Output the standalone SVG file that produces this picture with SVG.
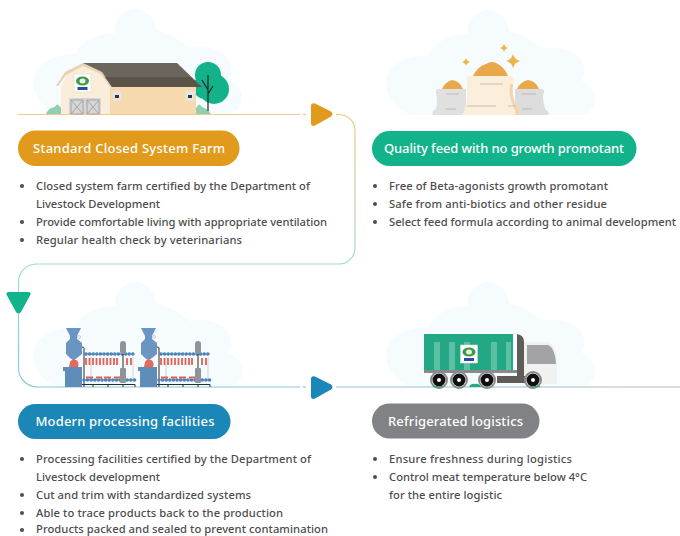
<svg xmlns="http://www.w3.org/2000/svg" xmlns:xlink="http://www.w3.org/1999/xlink" width="680" height="536" viewBox="0 0 680 536">
<style>
text{font-family:"Noto Sans","Liberation Sans",sans-serif}
.b{font-size:11.2px;font-weight:500;fill:#4d4d4d}
.p{font-size:13px;font-weight:500;fill:#fff;text-anchor:middle;dominant-baseline:central}
.d{fill:#4d4d4d}
.c{fill:none;stroke-width:1.2}
</style>
<defs>
<linearGradient id="g1" gradientUnits="userSpaceOnUse" x1="0" y1="114" x2="0" y2="264"><stop offset="0" stop-color="#f0c77e"/><stop offset="1" stop-color="#9bdccb"/></linearGradient>
<linearGradient id="g2" gradientUnits="userSpaceOnUse" x1="0" y1="264" x2="0" y2="387"><stop offset="0" stop-color="#9bdccb"/><stop offset="1" stop-color="#8cc4dc"/></linearGradient>
<linearGradient id="g3" gradientUnits="userSpaceOnUse" x1="340" y1="0" x2="680" y2="0"><stop offset="0" stop-color="#8cc4dc"/><stop offset="1" stop-color="#b4b6b8"/></linearGradient>
<path id="cloud" fill="#f6fbfe" d="M58,114C40,108 30,90 34,76C38,62 55,55 76,54C80,42 95,34 115,33C114,18 125,9 135,9C146,9 155,18 156,30C172,34 182,42 190,48C210,44 228,52 231,66C232,72 231,76 228,79C240,85 245,95 241,105C238,111 232,114 226,114Z"/>
<g id="logo"><rect x="0" y="0" width="17" height="18" fill="#fff" stroke="#d8d8d8" stroke-width=".6"/><ellipse cx="8.500" cy="7" rx="6.500" ry="4.500" fill="#3e9a4a"/><ellipse cx="8.500" cy="7" rx="3" ry="2.500" fill="#e8f3e0"/><rect x="3.500" y="13" width="10" height="3" fill="#2b4aa0"/></g>
<g id="machine">
<path d="M66,328H81L77,336V339L82,343V354L77,358L74,360H73L70,358L66,354V343L70,339V336Z" fill="#6a95c2"/>
<path d="M70,362a4.500,5 0 0 1 8,5H69Z" fill="#e8685a"/>
<path d="M63,367H82V387H65V371H63Z" fill="#5f8dba"/>
<circle cx="79" cy="337" r="1.500" fill="none" stroke="#c9b5a8" stroke-width=".7"/>
<path d="M84,387V348Q84,347 82,347" fill="none" stroke="#2b2b2b" stroke-width="1"/>
<path d="M82,384.500H135M93,384.500V387M108,384.500V387M123,384.500V387M135,384.500V387" stroke="#2b2b2b" stroke-width="1" fill="none"/>
<path d="M91,357V380M133,357V380" stroke="#d2d2d2" stroke-width="1"/>
<path d="M86,354H136M84,380H136" stroke="#4f83b5" stroke-width="3.600" stroke-linecap="round" stroke-dasharray="0.100 3.500" fill="none"/>
<path d="M86,358V365M89.500,358V365M93,358V365M96.500,358V365M100,358V365M103.500,358V365M107,358V365M110.500,358V365M114,358V365M117,358V365M127,358V365M131,358V365" stroke="#e45f55" stroke-width="1.800"/>
<path d="M86,377.500H93M96,377.500H102M104,377.500H111M114,377.500H120" stroke="#e45f55" stroke-width="2.200"/>
<rect x="120" y="341" width="6" height="13" rx="3" fill="#8e9499"/><rect x="120" y="368" width="6" height="15" rx="1" fill="#8e9499"/>
<path d="M123,354V368" stroke="#2b2b2b" stroke-width="1"/>
</g>
<path id="spark" d="M0,-6Q1,-1 6,0Q1,1 0,6Q-1,1 -6,0Q-1,-1 0,-6Z" fill="#efb14a"/>
</defs>
<rect width="680" height="536" fill="#fff"/>
<use xlink:href="#cloud" href="#cloud"/>
<use xlink:href="#cloud" href="#cloud" transform="translate(353,1)"/>
<use xlink:href="#cloud" href="#cloud" transform="translate(0,273)"/>
<use xlink:href="#cloud" href="#cloud" transform="translate(353,273)"/>

<g id="connectors">
<path class="c" d="M18,114.500H300" stroke="#f2c98a"/>
<path class="c" d="M303,114.500H306" stroke="#f2c98a"/>
<path class="c" d="M336,114.500H339A16,16 0 0 1 355,130.500V248A16,16 0 0 1 339,264H36A18,18 0 0 0 18.500,282V293" stroke="url(#g1)"/>
<path class="c" d="M18.500,314V368A19,19 0 0 0 37,387H300" stroke="url(#g2)"/>
<path class="c" d="M303,387H306" stroke="#8cc4dc"/>
<path class="c" d="M336,387H680" stroke="url(#g3)"/>
<path d="M311,106Q311,102.500 315,103.500L331,111.500Q334,114 331,116.500L315,125.500Q311,127 311,123Z" fill="#e29a1c"/>
<path d="M311,379Q311,375.500 315,376.500L331,384.500Q334,387 331,389.500L315,398.500Q311,400 311,396Z" fill="#1a87b8"/>
<path d="M9,292H28Q32,292 30,295.500L21,312Q18.500,315 16,312L7,295.500Q5,292 9,292Z" fill="#12b38a"/>
</g>

<g id="farm">
<g fill="#8fd0b3"><path d="M46,114Q48,108 55,107Q57,102 60,107Q66,109 67,114Z"/><path d="M190,114Q192,108 197,107Q199,102 202,107Q208,109 211,114Z"/></g>
<circle cx="208" cy="75" r="13" fill="#12b38a"/><circle cx="214" cy="89" r="15" fill="#12b38a"/><circle cx="205" cy="87" r="12" fill="#12b38a"/>
<path d="M208,75V111M208,90L202,80M208,94L213,86" stroke="#222" stroke-width="1.200" fill="none"/>
<rect x="110" y="87" width="86" height="27" fill="#f6d9ae"/>
<path d="M61,86L68,73L83,64L102,73L110,86V114H61Z" fill="#faeeda"/>
<path d="M56,86L65,72L83,63L102,72L112,87L110,87L101,74L83,66L66,75L58,86Z" fill="#e9d2ac"/>
<path d="M83,63H177L202,87H112L102,72Z" fill="#6b655b"/>
<path d="M105,77H190L202,87H112Z" fill="#5a544b"/>
<use xlink:href="#logo" href="#logo" transform="translate(74,74)"/>
<rect x="69" y="98" width="32" height="16" fill="#d6d6d6"/>
<path d="M71,100H83V114H71ZM71,100L83,114M83,100L71,114M87,100H99V114H87ZM87,100L99,114M99,100L87,114" fill="none" stroke="#9a9a9a" stroke-width=".8"/>
<rect x="113" y="91" width="8" height="10" fill="#e5e5e5"/><rect x="115" y="95" width="4" height="3" fill="#333"/>
<rect x="186" y="91" width="8" height="10" fill="#e5e5e5"/><rect x="188" y="95" width="4" height="3" fill="#333"/>
</g>

<g id="feed">
<use xlink:href="#spark" href="#spark" transform="translate(466,62) scale(.7)"/>
<use xlink:href="#spark" href="#spark" transform="translate(504,48) scale(.7)"/>
<use xlink:href="#spark" href="#spark" transform="translate(513,61) scale(1.200)"/>
<path d="M442,89Q445,82 452,80Q460,81 463,89Z" fill="#e9a94a"/>
<path d="M517,89Q520,82 528,80Q536,81 539,89Z" fill="#e9a94a"/>
<path d="M437,89H466V115H433Q431,111 436,109Q438,100 436,94Q435,91 437,89Z" fill="#e0e0e0"/>
<path d="M515,89H543Q545,92 543,95Q543,105 546,110Q550,112 548,115H515Z" fill="#dcdcdc"/>
<path d="M473,76Q478,66 486,64Q492,60 498,64Q505,68 508,76Z" fill="#e9a94a"/>
<path d="M467,76H512Q516,78 513,84Q511,100 519,109Q521,113 518,115H462Q468,105 467,90Z" fill="#fbeeda"/>
<path d="M513,84Q511,100 519,109Q521,113 518,115H514Q517,112 514,108Q508,96 510,84Z" fill="#f3d5a8"/>
<path d="M480,84H503M467,106H496M508,106H516M446,94H459M445,109H456M522,94H536M522,109H532" stroke="#b9b2a5" stroke-width=".8"/>
</g>

<g id="processing">
<use xlink:href="#machine" href="#machine"/>
<use xlink:href="#machine" href="#machine" transform="translate(75,0)"/>
</g>

<g id="truck">
<rect x="424" y="334" width="89" height="36" fill="#22a884"/>
<path d="M434,342h6v28h-6zM449,342h6v28h-6zM464,342h6v28h-6zM491,342h6v28h-6zM506,342h5v28h-5z" fill="#5cc0a4"/>
<rect x="424" y="370" width="106" height="3" fill="#8a8a8a"/>
<use xlink:href="#logo" href="#logo" transform="translate(460.500,345)"/>
<path d="M524,342H548Q556,345 557,360V384H524Z" fill="#f1f1f1"/>
<path d="M527,345H548Q555,348 556,364H527Z" fill="#a3a3a5"/>
<path d="M517,334Q524,335 524,342V382H517Z" fill="#605c57"/>
<rect x="497" y="376" width="28" height="7" fill="#605c57"/>
<g fill="none" stroke="#8a8a8a" stroke-width="2"><circle cx="439" cy="380" r="8"/><circle cx="459" cy="380" r="8"/><circle cx="487" cy="380" r="8"/><circle cx="533" cy="380" r="8"/></g>
<g fill="#111"><circle cx="439" cy="380" r="6.500"/><circle cx="459" cy="380" r="6.500"/><circle cx="487" cy="380" r="6.500"/><circle cx="533" cy="380" r="6.500"/></g>
<g fill="#fff"><circle cx="439" cy="380" r="2"/><circle cx="459" cy="380" r="2"/><circle cx="487" cy="380" r="2"/><circle cx="533" cy="380" r="2"/></g>
<path d="M433,387h10v-1h-10zM469,387q2,-4 6,-3q4,-1 6,3zM530,387h10v-1h-10z" fill="#22a884"/>
</g>

<g id="node1">
<rect x="18" y="130.500" width="221.500" height="35.500" rx="17.700" fill="#e29a1c"/>
<text class="p" x="129" y="148" textLength="192">Standard Closed System Farm</text>
<circle class="d" cx="22" cy="186" r="2"/><text class="b" x="36" y="190" textLength="274">Closed system farm certified by the Department of</text>
<text class="b" x="36" y="208" textLength="124">Livestock Development</text>
<circle class="d" cx="22" cy="222" r="2"/><text class="b" x="36" y="226" textLength="291">Provide comfortable living with appropriate ventilation</text>
<circle class="d" cx="22" cy="240" r="2"/><text class="b" x="36" y="244" textLength="206">Regular health check by veterinarians</text>
</g>
<g id="node2">
<rect x="372" y="131" width="264.500" height="35" rx="17.500" fill="#12b38a"/>
<text class="p" x="504" y="148" textLength="240">Quality feed with no growth promotant</text>
<circle class="d" cx="375" cy="186" r="2"/><text class="b" x="389" y="190" textLength="219">Free of Beta-agonists growth promotant</text>
<circle class="d" cx="375" cy="204" r="2"/><text class="b" x="389" y="208" textLength="218">Safe from anti-biotics and other residue</text>
<circle class="d" cx="375" cy="222" r="2"/><text class="b" x="389" y="226" textLength="287">Select feed formula according to animal development</text>
</g>
<g id="node3">
<rect x="18" y="404" width="212.500" height="35" rx="17.500" fill="#1a87b8"/>
<text class="p" x="125" y="421" textLength="179">Modern processing facilities</text>
<circle class="d" cx="22" cy="459" r="2"/><text class="b" x="36" y="463" textLength="275">Processing facilities certified by the Department of</text>
<text class="b" x="36" y="481" textLength="124">Livestock development</text>
<circle class="d" cx="22" cy="495" r="2"/><text class="b" x="36" y="499" textLength="215">Cut and trim with standardized systems</text>
<circle class="d" cx="22" cy="513" r="2"/><text class="b" x="36" y="517" textLength="247">Able to trace products back to the production</text>
<circle class="d" cx="22" cy="530" r="2"/><text class="b" x="36" y="533" textLength="292">Products packed and sealed to prevent contamination</text>
</g>
<g id="node4">
<rect x="372" y="403.500" width="167.500" height="35" rx="17.500" fill="#808285"/>
<text class="p" x="455.500" y="421" textLength="135">Refrigerated logistics</text>
<circle class="d" cx="375" cy="459" r="2"/><text class="b" x="389" y="463" textLength="183">Ensure freshness during logistics</text>
<circle class="d" cx="375" cy="477" r="2"/><text class="b" x="389" y="481" textLength="198">Control meat temperature below 4°C</text>
<text class="b" x="389" y="499" textLength="113">for the entire logistic</text>
</g>
</svg>
